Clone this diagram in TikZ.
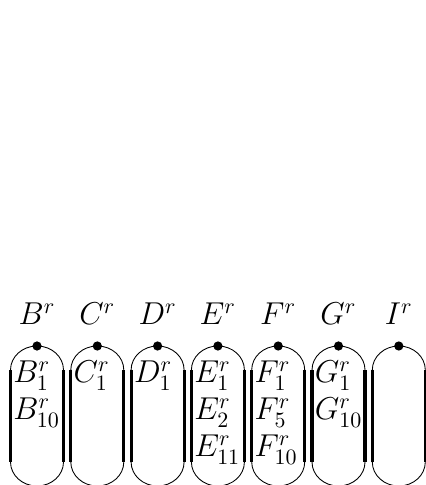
\documentclass[tikz,border=0pt]{standalone}
\begin{document}
\begin{tikzpicture}[x=0.016cm, y=0.016cm,
  every node/.style={font=\fontsize{13.8}{16}\selectfont},
  dot/.style={circle, fill, inner sep=0pt, minimum size=4.2pt},
  item/.style={anchor=base west, inner sep=0pt}]
\useasboundingbox (0,0) rectangle (426,485);
\foreach \n [count=\i from 0] in {B,C,D,E,F,G,I} {
  \pgfmathsetmacro{\cx}{37+60.3*\i}
  \draw (\cx-26.5,115) arc[start angle=180, end angle=0, x radius=26.5, y radius=24];
  \draw (\cx-26.5,23) arc[start angle=180, end angle=360, x radius=26.5, y radius=24];
  \draw[line width=1.4pt] (\cx-26.5,115) -- (\cx-26.5,23);
  \draw[line width=1.4pt] (\cx+26.5,115) -- (\cx+26.5,23);
  \node[dot] (\n dot) at (\cx,139) {};
  \node[anchor=base] (\n) at (\cx,160) {$\n^r$};
}
\node[item] (B1) at (13,102) {$B^r_1$};
\node[item] (B10) at (13,65) {$B^r_{10}$};
\node[item] (C1) at (73.3,102) {$C^r_1$};
\node[item] (D1) at (133.6,102) {$D^r_1$};
\node[item] (E1) at (193.9,102) {$E^r_1$};
\node[item] (E2) at (193.9,65) {$E^r_2$};
\node[item] (E11) at (193.9,28) {$E^r_{11}$};
\node[item] (F1) at (254.2,102) {$F^r_1$};
\node[item] (F5) at (254.2,65) {$F^r_5$};
\node[item] (F10) at (254.2,28) {$F^r_{10}$};
\node[item] (G1) at (314.5,102) {$G^r_1$};
\node[item] (G10) at (314.5,65) {$G^r_{10}$};
\end{tikzpicture}
\end{document}
